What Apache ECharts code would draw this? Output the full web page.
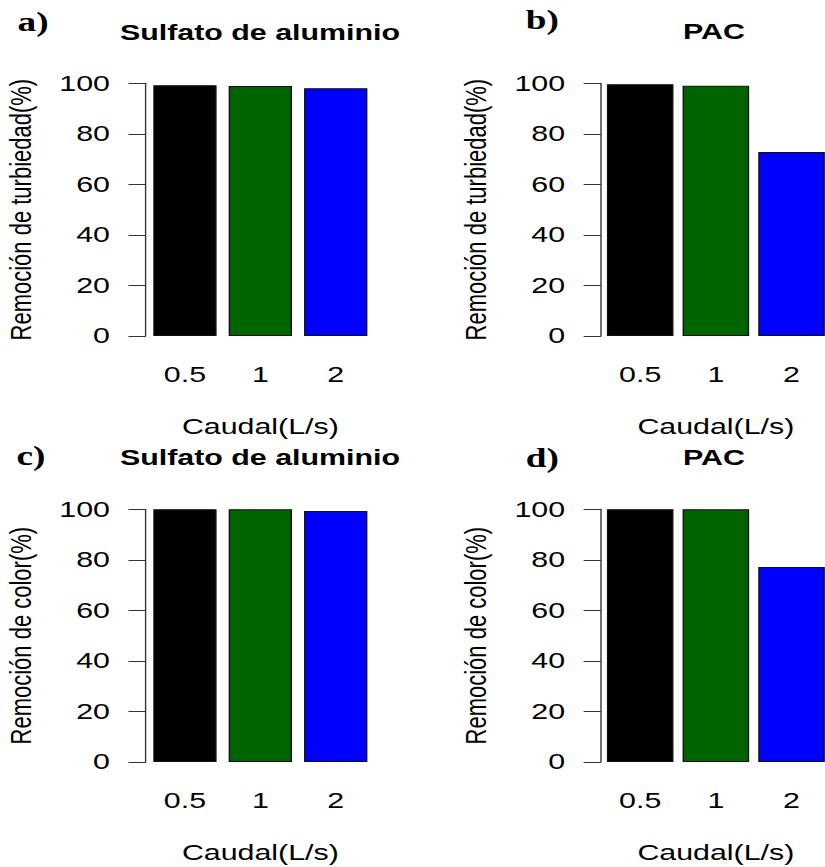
<!DOCTYPE html>
<html>
<head>
<meta charset="utf-8">
<script src="https://cdn.jsdelivr.net/npm/echarts@6/dist/echarts.min.js"></script>
<style>
  html, body { margin: 0; padding: 0; background: #fff; overflow: hidden; }
  #wrap { width: 825px; height: 867px; overflow: hidden; }
  #chart { width: 612px; height: 867px; transform: scaleX(1.38); transform-origin: 0 0; }
</style>
</head>
<body>
<div id="wrap"><div id="chart"></div></div>
<script>
// ---- data ----
const categories = ['0.5', '1', '2'];
const barColors = ['#000000', '#006400', '#0000FF'];
const turbSulfato = [99.2, 98.9, 98.0];
const turbPAC = [99.6, 99.05, 72.8];
const colorSulfato = [100, 100, 99.3];
const colorPAC = [100, 100, 77.2];
const yTicks = { min: 0, max: 100, interval: 20 };
const panelTitles = ['Sulfato de aluminio', 'PAC', 'Sulfato de aluminio', 'PAC'];
const panelLetters = ['a)', 'b)', 'c)', 'd)'];
const yNames = ['Remoción de turbiedad(%)', 'Remoción de turbiedad(%)', 'Remoción de color(%)', 'Remoción de color(%)'];
const xName = 'Caudal(L/s)';
const panelData = [turbSulfato, turbPAC, colorSulfato, colorPAC];

// ---- layout (chart coords, pre-stretch) ----
const grids = [
  { left: 106.7, top: 83.3, width: 163.9, height: 252.7 },
  { left: 436.5, top: 83.3, width: 164.5, height: 252.7 },
  { left: 106.7, top: 509.3, width: 163.9, height: 252.7 },
  { left: 436.5, top: 509.3, width: 164.5, height: 252.7 }
];
const barWidths = ['84%', '88%', '84%', '88%'];
const titlePos = [[188.4, 33], [517.4, 32], [188.4, 458], [517.4, 458]];
const letterPos = [[24, 22], [393, 20], [22.5, 456], [393, 458]];

const font = '"Liberation Sans", Arial, sans-serif';
const serif = '"Liberation Serif", "Times New Roman", serif';

const option = {
  animation: false,
  backgroundColor: '#ffffff',
  grid: grids.map(g => Object.assign({ containLabel: false }, g)),
  xAxis: grids.map((g, i) => ({
    type: 'category',
    gridIndex: i,
    data: categories,
    axisLine: { show: false },
    axisTick: { show: false },
    axisLabel: { color: '#000', fontFamily: font, fontSize: 22, margin: 28 },
    name: xName,
    nameLocation: 'middle',
    nameGap: 80,
    nameTextStyle: { color: '#000', fontFamily: font, fontSize: 22 }
  })),
  yAxis: grids.map((g, i) => ({
    type: 'value',
    gridIndex: i,
    min: yTicks.min,
    max: yTicks.max,
    interval: yTicks.interval,
    offset: 1,
    splitLine: { show: false },
    axisLine: { show: true, lineStyle: { color: '#333', width: 1 } },
    axisTick: { show: true, length: 12.6, lineStyle: { color: '#333', width: 1 } },
    axisLabel: { color: '#000', fontFamily: font, fontSize: 22, margin: 26 },
    name: yNames[i],
    nameLocation: 'middle',
    nameGap: 80,
    nameTextStyle: { color: '#000', fontFamily: font, fontSize: 22 }
  })),
  series: panelData.map((vals, i) => ({
    type: 'bar',
    xAxisIndex: i,
    yAxisIndex: i,
    barWidth: barWidths[i],
    data: vals.map((v, j) => ({
      value: v,
      itemStyle: { color: barColors[j], borderColor: '#111', borderWidth: 1 }
    }))
  })),
  graphic: [
    ...panelTitles.map((t, i) => ({
      type: 'text',
      x: titlePos[i][0],
      y: titlePos[i][1],
      style: { text: t, fill: '#000', font: 'bold 22px ' + font, textAlign: 'center', textVerticalAlign: 'middle' }
    })),
    ...panelLetters.map((t, i) => ({
      type: 'text',
      x: letterPos[i][0],
      y: letterPos[i][1],
      style: { text: t, fill: '#000', font: 'bold 27px ' + serif, textAlign: 'center', textVerticalAlign: 'middle' }
    }))
  ]
};

const chart = echarts.init(document.getElementById('chart'), null, { renderer: 'svg' });
chart.setOption(option);
</script>
</body>
</html>
